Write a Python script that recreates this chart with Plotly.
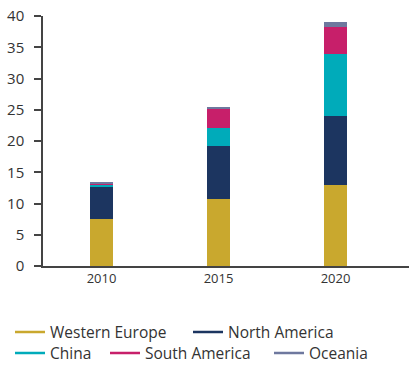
import plotly.graph_objects as go

years = ["2010", "2015", "2020"]
western_europe = [7.6, 10.7, 12.9]
north_america = [5.0, 8.5, 11.05]
china = [0.45, 2.95, 9.95]
south_america = [0.15, 2.95, 4.3]
oceania = [0.2, 0.35, 0.8]

series_names = ["Western Europe", "North America", "China", "South America", "Oceania"]
series_values = [western_europe, north_america, china, south_america, oceania]
colors = ["#C9A82E", "#1C3560", "#00ABBA", "#C71F6A", "#6E789E"]

# legend entry placement (line start px, row)
legend_x_px = [15, 193, 15, 110, 274]
legend_rows = [0, 0, 1, 1, 1]
legend_ids = ["legend", "legend2", "legend3", "legend4", "legend5"]

fig = go.Figure()
for name, vals, col in zip(series_names, series_values, colors):
    fig.add_trace(go.Bar(x=years, y=vals, name=name, marker=dict(color=col, line=dict(width=0)),
                         width=0.2, showlegend=False))
for name, col, lg in zip(series_names, colors, legend_ids):
    fig.add_trace(go.Scatter(x=[None], y=[None], mode="lines", name=name, legend=lg,
                             line=dict(color=col, width=2.5), showlegend=True))

W, H = 409, 365
legend_common = dict(orientation="h", xref="container", yref="container", yanchor="top",
                     font=dict(size=15.5, color="#333333"), itemwidth=30,
                     traceorder="normal", bgcolor="rgba(0,0,0,0)")
row_y = [0.136, 0.078]
legends = {}
for lg, xp, r in zip(legend_ids, legend_x_px, legend_rows):
    legends[lg] = dict(x=(xp - 5) / W, y=row_y[r], **legend_common)

fig.update_layout(
    width=W, height=H,
    margin=dict(l=43, r=0, t=16, b=99),
    barmode="stack",
    plot_bgcolor="white", paper_bgcolor="white",
    font=dict(family="Open Sans", color="#333333"),
    xaxis=dict(type="category", range=[-0.5, 2.628], showgrid=False, ticks="",
               showline=True, linecolor="#444444", linewidth=1.5,
               tickfont=dict(size=13, color="#333333")),
    yaxis=dict(range=[0, 40], dtick=5, showgrid=False, zeroline=False,
               showline=True, linecolor="#444444", linewidth=1.5,
               ticks="outside", ticklen=7, tickwidth=1.5, tickcolor="#444444",
               ticklabelstandoff=7,
               tickfont=dict(size=15, color="#333333")),
    **legends,
)
fig.write_html("out.html")
